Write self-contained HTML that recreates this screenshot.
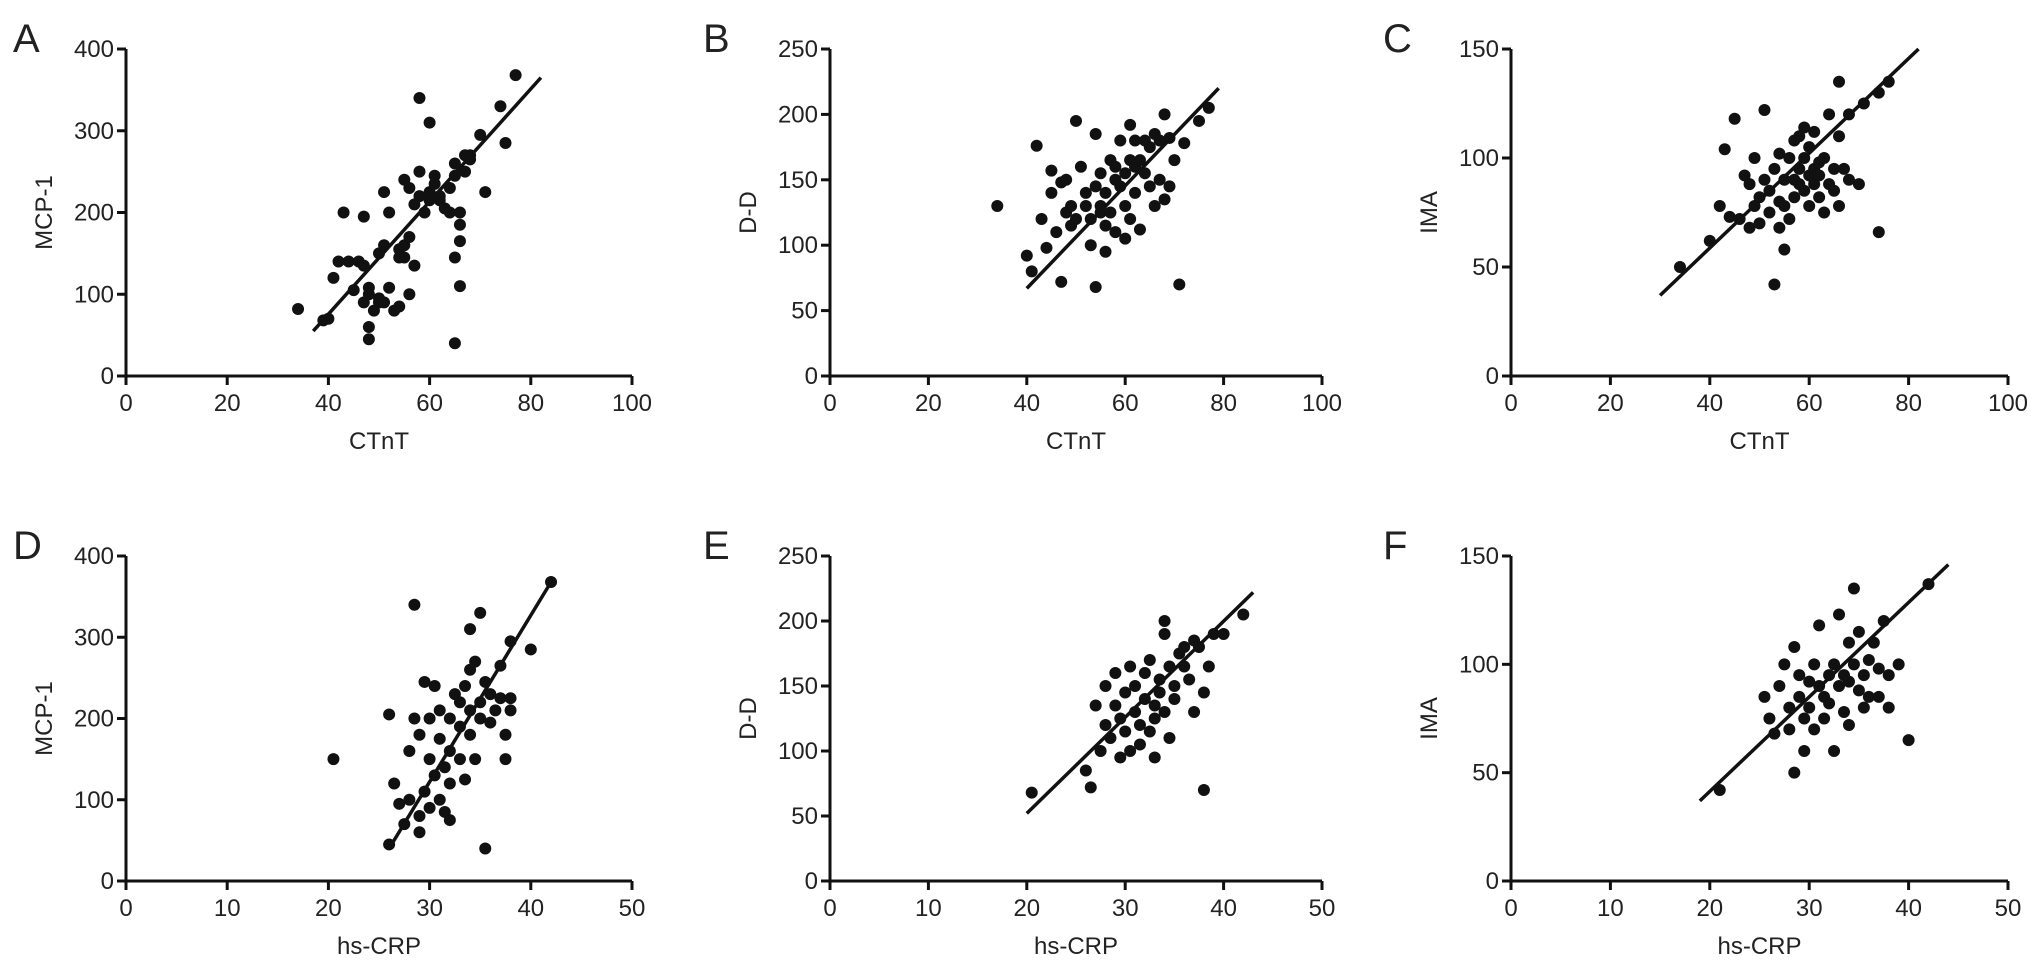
<!DOCTYPE html>
<html><head><meta charset="utf-8"><style>
html,body{margin:0;padding:0;background:#fff;}
svg{display:block;font-family:"Liberation Sans",Arial,sans-serif;}
</style></head><body>
<svg id="fig" width="2032" height="969" viewBox="0 0 2032 969" xmlns="http://www.w3.org/2000/svg"></svg>
<script>
const ctntA_x=[34,39,40,41,42,43,44,45,46,47,47,47,48,48,48,48,49,50,50,51,50,51,51,52,52,53,54,54,54,55,55,55,56,56,56,57,57,58,58,58,59,60,60,60,61,61,62,62,63,64,64,65,65,65,65,66,66,66,66,67,67,68,68,70,71,74,75,77];
const mcp1A_y=[82,68,70,120,140,200,140,105,140,135,90,195,45,60,100,108,80,95,90,90,150,160,225,200,108,80,85,145,155,145,160,240,100,230,170,135,210,250,220,340,200,310,215,225,245,235,220,215,205,200,230,245,260,145,40,110,185,200,165,250,270,270,265,295,225,330,285,368];
const ctntB_x=[34,40,41,42,43,44,45,45,46,47,47,48,48,49,49,50,50,51,52,52,53,53,54,54,54,55,55,55,56,56,56,57,57,58,58,58,59,59,60,60,60,61,61,61,62,62,62,63,63,64,64,65,65,66,66,67,67,68,68,69,69,70,71,72,75,77];
const ddB_y=[130,92,80,176,120,98,140,157,110,72,148,125,150,115,130,195,120,160,140,130,120,100,68,145,185,155,130,125,140,95,115,165,125,150,160,110,145,180,130,105,155,120,165,192,140,160,180,165,112,155,180,175,145,185,130,180,150,200,135,182,145,165,70,178,195,205];
const ctntC_x=[34,40,42,43,44,45,46,47,48,48,49,49,50,50,51,51,52,52,53,53,54,54,54,55,55,55,56,56,57,57,57,58,58,58,59,59,59,60,60,60,61,61,61,62,62,62,63,63,64,64,65,65,66,66,66,67,68,68,70,71,74,74,76];
const imaC_y=[50,62,78,104,73,118,72,92,88,68,78,100,70,82,122,90,75,85,42,95,80,68,102,58,90,78,100,72,90,82,108,95,110,88,100,85,114,92,78,105,112,95,88,98,82,92,100,75,120,88,85,95,135,110,78,95,90,120,88,125,130,66,135];
const crpD_x=[20.5,26,26,26.5,27,27.5,28,28,28.5,28.5,29,29,29,29.5,29.5,30,30,30,30.5,30.5,31,31,31,31.5,31.5,32,32,32,32,32.5,33,33,33,33.5,33.5,34,34,34,34,34.5,34.5,35,35,35,35.5,35.5,36,36,36.5,37,37,37.5,37.5,38,38,38,40,42];
const mcp1D_y=[150,205,45,120,95,70,100,160,340,200,60,80,180,110,245,90,200,150,240,130,100,175,210,140,85,200,160,120,75,230,190,150,220,240,125,210,310,260,180,270,150,330,220,200,40,245,230,195,210,265,225,150,180,225,295,210,285,368];
const crpE_x=[20.5,26,26.5,27,27.5,28,28,28.5,29,29,29.5,29.5,30,30,30.5,30.5,31,31,31.5,31.5,32,32,32.5,32.5,33,33,33,33.5,33.5,34,34,34,34.5,34.5,35,35,35.5,36,36,36.5,37,37,37.5,38,38,38.5,39,40,42];
const ddE_y=[68,85,72,135,100,120,150,110,160,135,95,125,145,115,100,165,130,150,120,105,140,160,115,170,135,125,95,155,145,200,190,130,165,110,150,140,175,165,180,155,185,130,180,145,70,165,190,190,205];
const crpF_x=[21,25.5,26,26.5,27,27.5,28,28,28.5,28.5,29,29,29.5,29.5,30,30,30.5,30.5,31,31,31.5,31.5,32,32,32.5,32.5,33,33,33.5,33.5,34,34,34,34.5,34.5,35,35,35.5,35.5,36,36,36.5,37,37,37.5,38,38,39,40,42];
const imaF_y=[42,85,75,68,90,100,70,80,108,50,85,95,60,75,80,92,100,70,90,118,85,75,95,82,100,60,90,123,95,78,110,92,72,135,100,88,115,95,80,102,85,110,98,85,120,95,80,100,65,137];
const fitA=[[37,55],[82,365]];
const fitB=[[40,67],[79,220]];
const fitC=[[30,37],[82,150]];
const fitD=[[26,40],[42,368]];
const fitE=[[20,52],[43,222]];
const fitF=[[19,37],[44,146]];
const xTicksCTnT=[0,20,40,60,80,100];
const xTicksCRP=[0,10,20,30,40,50];
const yTicksMCP=[0,100,200,300,400];
const yTicksDD=[0,50,100,150,200,250];
const yTicksIMA=[0,50,100,150];

const svg=document.getElementById('fig');
const NS='http://www.w3.org/2000/svg';
function mk(tag,attrs,parent){const e=document.createElementNS(NS,tag);for(const k in attrs)e.setAttribute(k,attrs[k]);(parent||svg).appendChild(e);return e;}

const panels=[
 {id:'a',letter:'A',x0:126,x1:632,yTop:49,y0:376,xmax:100,ymax:400,xt:xTicksCTnT,yt:yTicksMCP,xl:'CTnT',yl:'MCP-1',xs:ctntA_x,ys:mcp1A_y,fit:fitA,lx:13,ly:52},
 {id:'b',letter:'B',x0:830,x1:1322,yTop:49,y0:376,xmax:100,ymax:250,xt:xTicksCTnT,yt:yTicksDD,xl:'CTnT',yl:'D-D',xs:ctntB_x,ys:ddB_y,fit:fitB,lx:703,ly:52},
 {id:'c',letter:'C',x0:1511,x1:2008,yTop:49,y0:376,xmax:100,ymax:150,xt:xTicksCTnT,yt:yTicksIMA,xl:'CTnT',yl:'IMA',xs:ctntC_x,ys:imaC_y,fit:fitC,lx:1383,ly:52},
 {id:'d',letter:'D',x0:126,x1:632,yTop:556,y0:881,xmax:50,ymax:400,xt:xTicksCRP,yt:yTicksMCP,xl:'hs-CRP',yl:'MCP-1',xs:crpD_x,ys:mcp1D_y,fit:fitD,lx:13,ly:559},
 {id:'e',letter:'E',x0:830,x1:1322,yTop:556,y0:881,xmax:50,ymax:250,xt:xTicksCRP,yt:yTicksDD,xl:'hs-CRP',yl:'D-D',xs:crpE_x,ys:ddE_y,fit:fitE,lx:703,ly:559},
 {id:'f',letter:'F',x0:1511,x1:2008,yTop:556,y0:881,xmax:50,ymax:150,xt:xTicksCRP,yt:yTicksIMA,xl:'hs-CRP',yl:'IMA',xs:crpF_x,ys:imaF_y,fit:fitF,lx:1383,ly:559}
];

panels.forEach(p=>{
 const g=mk('g',{});
 
 
 const sx=v=>p.x0+(v/p.xmax)*(p.x1-p.x0);
 const sy=v=>p.y0-(v/p.ymax)*(p.y0-p.yTop);
 const L=mk('text',{x:p.lx,y:p.ly,'font-size':40,fill:'#222'},g);L.textContent=p.letter;
 
 
 const ya=mk('line',{x1:p.x0,y1:p.yTop,x2:p.x0,y2:p.y0+1.5,stroke:'#111','stroke-width':3},g);
 
 
 const xa=mk('line',{x1:p.x0-1.5,y1:p.y0,x2:p.x1,y2:p.y0,stroke:'#111','stroke-width':3},g);
 
 
 p.yt.forEach(v=>{
  mk('line',{x1:p.x0-9,y1:sy(v),x2:p.x0,y2:sy(v),stroke:'#111','stroke-width':3},g);
  const t=mk('text',{x:p.x0-12,y:sy(v)+8,'font-size':24,'text-anchor':'end',fill:'#222'},g);t.textContent=v;
  
  
 });
 p.xt.forEach(v=>{
  mk('line',{x1:sx(v),y1:p.y0,x2:sx(v),y2:p.y0+9,stroke:'#111','stroke-width':3},g);
  const t=mk('text',{x:sx(v),y:p.y0+35,'font-size':24,'text-anchor':'middle',fill:'#222'},g);t.textContent=v;
  
  
 });
 const xt=mk('text',{x:(p.x0+p.x1)/2,y:p.y0+73,'font-size':24,'text-anchor':'middle',fill:'#222'},g);xt.textContent=p.xl;
 
 
 const yx=p.x0-74, ym=(p.y0+p.yTop)/2;
 const yt=mk('text',{x:yx,y:ym,'font-size':24,'text-anchor':'middle',fill:'#222',transform:`rotate(-90 ${yx} ${ym})`},g);yt.textContent=p.yl;
 
 
 p.xs.forEach((v,i)=>{
  const c=mk('circle',{cx:sx(v),cy:sy(p.ys[i]),r:6,fill:'#111'},g);
  
  
 });
 const f=mk('line',{x1:sx(p.fit[0][0]),y1:sy(p.fit[0][1]),x2:sx(p.fit[1][0]),y2:sy(p.fit[1][1]),stroke:'#111','stroke-width':3.5},g);
 
 
});
</script>
</body></html>
